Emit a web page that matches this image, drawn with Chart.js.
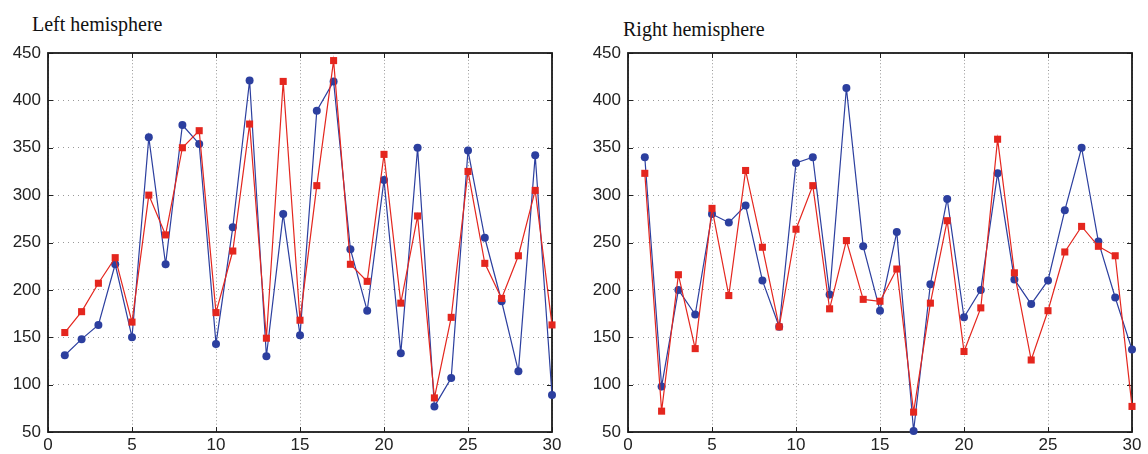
<!DOCTYPE html>
<html>
<head>
<meta charset="utf-8">
<script src="https://cdn.jsdelivr.net/npm/chart.js@4.4.1/dist/chart.umd.min.js"></script>
<style>
  html, body { margin: 0; padding: 0; background: #fff; }
  #wrap { position: relative; width: 1148px; height: 454px; overflow: hidden; }
  canvas { position: absolute; top: 0; }
  .title { position: absolute; font-family: "Liberation Serif", "Times New Roman", serif; font-size: 20px; line-height: 20px; color: #111; white-space: nowrap; }
</style>
</head>
<body>
<div id="wrap">
  <div class="title" style="left:32px; top:14px;">Left hemisphere</div>
  <div class="title" style="left:623px; top:19px;">Right hemisphere</div>
  <canvas id="left" width="574" height="454" style="left:0px;"></canvas>
  <canvas id="right" width="574" height="454" style="left:574px;"></canvas>
</div>
<script>
// ---- data ----
const trials = [1,2,3,4,5,6,7,8,9,10,11,12,13,14,15,16,17,18,19,20,21,22,23,24,25,26,27,28,29,30];

const leftBlue = [131,148,163,227,150,361,227,374,354,143,266,421,130,280,152,389,420,243,178,316,133,350,77,107,347,255,188,114,342,89];
const leftRed  = [155,177,207,234,166,300,258,350,368,176,241,375,149,420,168,310,442,227,209,343,186,278,86,171,325,228,191,236,305,163];

const rightBlue = [340,98,200,174,280,271,289,210,161,334,340,195,413,246,178,261,51,206,296,171,200,323,211,185,210,284,350,251,192,137];
const rightRed  = [323,72,216,138,286,194,326,245,161,264,310,180,252,190,188,222,71,186,273,135,181,359,218,126,178,240,267,246,236,77];

const xTicks = [0,5,10,15,20,25,30];
const yTicks = [50,100,150,200,250,300,350,400,450];

const BLUE = '#2c3f9f';
const RED = '#e4261e';

Chart.defaults.font.family = '"Liberation Sans", Arial, Helvetica, sans-serif';
Chart.defaults.font.size = 17;
Chart.defaults.color = '#222';

const framePlugin = {
  id: 'frame',
  beforeDatasetsDraw(chart) {
    const {ctx, chartArea: a, scales} = chart;
    ctx.save();
    ctx.strokeStyle = '#222';
    ctx.lineWidth = 1;
    ctx.setLineDash([]);
    // major ticks inward on all four sides
    ctx.beginPath();
    xTicks.forEach(v => {
      const px = Math.round(scales.x.getPixelForValue(v)) + 0.5;
      ctx.moveTo(px, a.bottom); ctx.lineTo(px, a.bottom - 5);
      ctx.moveTo(px, a.top); ctx.lineTo(px, a.top + 5);
    });
    yTicks.forEach(v => {
      const py = Math.round(scales.y.getPixelForValue(v)) + 0.5;
      ctx.moveTo(a.left, py); ctx.lineTo(a.left + 5, py);
      ctx.moveTo(a.right, py); ctx.lineTo(a.right - 5, py);
    });
    ctx.stroke();
    ctx.lineWidth = 1.8;
    ctx.strokeStyle = '#1a1a1a';
    ctx.strokeRect(a.left, a.top, a.right - a.left, a.bottom - a.top);
    ctx.restore();
  }
};

function makeChart(id, blue, red, yAxisWidth, padRight) {
  const toPts = arr => arr.map((v, i) => ({x: trials[i], y: v}));
  return new Chart(document.getElementById(id), {
    type: 'line',
    data: {
      datasets: [
        {
          data: toPts(blue), borderColor: BLUE, backgroundColor: BLUE,
          borderWidth: 1.2, pointStyle: 'circle', pointRadius: 4,
          pointBorderWidth: 0, tension: 0, clip: false, order: 1
        },
        {
          data: toPts(red), borderColor: RED, backgroundColor: RED,
          borderWidth: 1.2, pointStyle: 'rect', pointRadius: 5,
          pointBorderWidth: 0, tension: 0, clip: false, order: 0
        }
      ]
    },
    options: {
      responsive: false,
      animation: false,
      events: [],
      layout: { padding: { top: 53, bottom: 0, left: 0, right: padRight } },
      plugins: { legend: { display: false }, tooltip: { enabled: false }, title: { display: false } },
      scales: {
        x: {
          type: 'linear', min: 0, max: 30,
          afterBuildTicks: s => { s.ticks = xTicks.map(v => ({value: v})); },
          ticks: { padding: 3, maxRotation: 0, autoSkip: false },
          grid: { color: '#999999', lineWidth: 1, drawTicks: false },
          border: { display: false, dash: [1, 2.4] },
          afterFit: s => { s.height = 22; }
        },
        y: {
          type: 'linear', min: 50, max: 450,
          afterBuildTicks: s => { s.ticks = yTicks.map(v => ({value: v})); },
          ticks: { padding: 7, autoSkip: false },
          grid: { color: '#999999', lineWidth: 1, drawTicks: false },
          border: { display: false, dash: [1, 4] },
          afterFit: s => { s.width = yAxisWidth; }
        }
      }
    },
    plugins: [framePlugin]
  });
}

makeChart('left', leftBlue, leftRed, 48, 22);
makeChart('right', rightBlue, rightRed, 54, 16);
</script>
</body>
</html>
